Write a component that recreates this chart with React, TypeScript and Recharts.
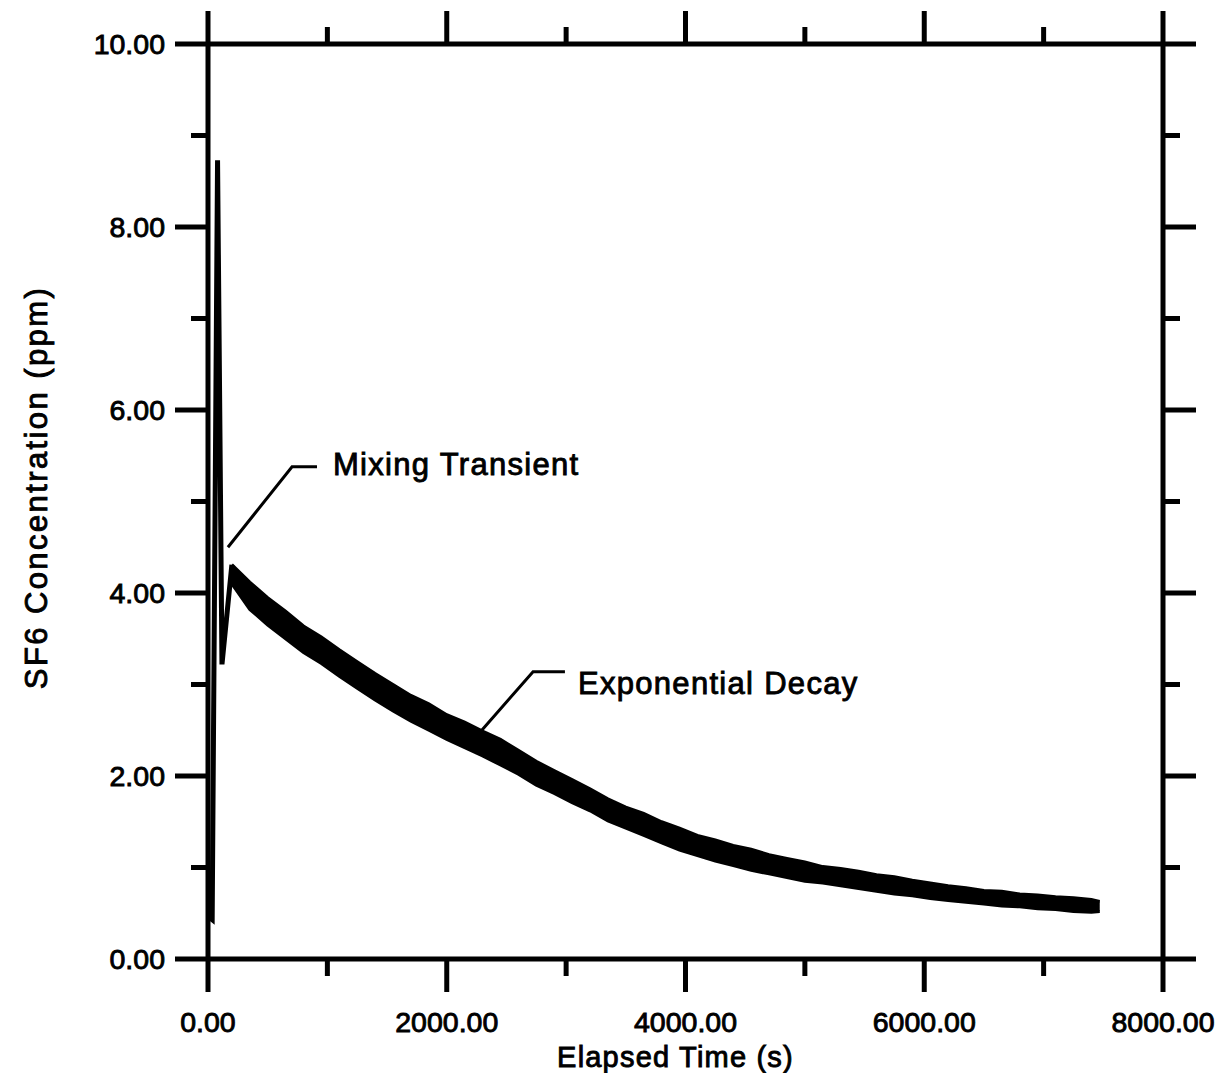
import React from 'react';
import { ComposedChart, XAxis, YAxis, Area, Line, Scatter } from 'recharts';

// ---- data ----
const decayTime = [200, 350, 500, 650, 800, 950, 1100, 1250, 1400, 1550, 1700, 1850, 2000, 2150, 2300, 2450, 2600, 2750, 2900, 3050, 3200, 3350, 3500, 3650, 3800, 3950, 4100, 4250, 4400, 4550, 4700, 4850, 5000, 5150, 5300, 5450, 5600, 5750, 5900, 6050, 6200, 6350, 6500, 6650, 6800, 6950, 7100, 7250, 7400, 7470];
const decayLow = [4.10, 3.82, 3.65, 3.50, 3.35, 3.23, 3.09, 2.96, 2.83, 2.71, 2.60, 2.50, 2.40, 2.31, 2.22, 2.12, 2.02, 1.90, 1.81, 1.71, 1.62, 1.51, 1.43, 1.35, 1.27, 1.19, 1.13, 1.07, 1.02, 0.97, 0.93, 0.89, 0.85, 0.83, 0.80, 0.77, 0.74, 0.71, 0.69, 0.66, 0.64, 0.62, 0.60, 0.58, 0.57, 0.55, 0.54, 0.52, 0.51, 0.52];
const decayHigh = [4.31, 4.12, 3.95, 3.80, 3.64, 3.52, 3.38, 3.25, 3.12, 3.00, 2.88, 2.79, 2.67, 2.59, 2.49, 2.40, 2.28, 2.16, 2.06, 1.96, 1.86, 1.75, 1.66, 1.59, 1.50, 1.43, 1.35, 1.30, 1.24, 1.20, 1.14, 1.10, 1.06, 1.01, 0.99, 0.96, 0.92, 0.90, 0.86, 0.83, 0.80, 0.78, 0.75, 0.74, 0.71, 0.70, 0.68, 0.67, 0.65, 0.63];

const spikeTime = [15, 35, 80, 117, 200];
const spikeValue = [0.45, 0.43, 8.73, 3.22, 4.31];

const mixingLeaderTime = [167, 704, 913];
const mixingLeaderValue = [4.5, 5.38, 5.38];
const decayLeaderTime = [2220, 2723, 2990];
const decayLeaderValue = [2.39, 3.14, 3.14];

const annotationText = ['Mixing Transient', 'Exponential Decay'];
const annotationTime = [1047, 3099];
const annotationValue = [5.29, 2.9];

const xTickValues = [0, 1000, 2000, 3000, 4000, 5000, 6000, 7000, 8000];
const xMajorTicks = [0, 2000, 4000, 6000, 8000];
const yTickValues = [0, 1, 2, 3, 4, 5, 6, 7, 8, 9, 10];
const yMajorTicks = [0, 2, 4, 6, 8, 10];

const xTitle = 'Elapsed Time (s)';
const yTitle = 'SF6 Concentration (ppm)';

// ---- build series ----
const band = decayTime.map((t, i) => ({ t, lo: decayLow[i], hi: decayHigh[i] }));
const spike = spikeTime.map((t, i) => ({ t, v: spikeValue[i] }));
const mixingLeader = mixingLeaderTime.map((t, i) => ({ t, v: mixingLeaderValue[i] }));
const decayLeader = decayLeaderTime.map((t, i) => ({ t, v: decayLeaderValue[i] }));
const annotations = annotationText.map((label, i) => ({ t: annotationTime[i], v: annotationValue[i], label }));

const FONT = 'Liberation Sans, Arial, Helvetica, sans-serif';
const tickFont: React.CSSProperties = { fontFamily: FONT, fontSize: 28.5, fill: '#000', stroke: '#000', strokeWidth: 0.9 };
const MAJOR = 33;
const MINOR = 17;
const TW = 5;

const BottomTick = (props: any) => {
  const { x, y, payload } = props;
  const major = xMajorTicks.includes(payload.value);
  return (
    <g>
      <line x1={x} x2={x} y1={y} y2={y + (major ? MAJOR : MINOR)} stroke="#000" strokeWidth={TW} />
      {major && (
        <text x={x} y={y + 73} textAnchor="middle" style={tickFont}>
          {Number(payload.value).toFixed(2)}
        </text>
      )}
    </g>
  );
};

const TopTick = (props: any) => {
  const { x, y, payload } = props;
  const major = xMajorTicks.includes(payload.value);
  return <line x1={x} x2={x} y1={y} y2={y - (major ? MAJOR : MINOR)} stroke="#000" strokeWidth={TW} />;
};

const LeftTick = (props: any) => {
  const { x, y, payload } = props;
  const major = yMajorTicks.includes(payload.value);
  return (
    <g>
      <line x1={x} x2={x - (major ? MAJOR : MINOR)} y1={y} y2={y} stroke="#000" strokeWidth={TW} />
      {major && (
        <text x={x - 43} y={y + 10} textAnchor="end" style={tickFont}>
          {Number(payload.value).toFixed(2)}
        </text>
      )}
    </g>
  );
};

const RightTick = (props: any) => {
  const { x, y, payload } = props;
  const major = yMajorTicks.includes(payload.value);
  return <line x1={x} x2={x + (major ? MAJOR : MINOR)} y1={y} y2={y} stroke="#000" strokeWidth={TW} />;
};

const titleStyle: React.CSSProperties = { fontFamily: FONT, fontSize: 29, fill: '#000', stroke: '#000', strokeWidth: 0.9, letterSpacing: 1.2 };

const XTitle = (props: any) => {
  const vb = props.viewBox || { x: 200, y: 951, width: 955, height: 10 };
  return (
    <text x={vb.x + vb.width / 2 - 10} y={vb.y + 108} textAnchor="middle" style={titleStyle}>
      {xTitle}
    </text>
  );
};

const YTitle = (props: any) => {
  const vb = props.viewBox || { x: 140, y: 36, width: 60, height: 915 };
  const cx = 28;
  const cy = vb.y + vb.height / 2 - 14;
  return (
    <text
      x={cx}
      y={cy}
      transform={`rotate(-90 ${cx} ${cy})`}
      textAnchor="middle"
      dominantBaseline="central"
      style={{ ...titleStyle, fontSize: 31, letterSpacing: 2.4 }}
    >
      {yTitle}
    </text>
  );
};

const AnnotationShape = (props: any) => {
  const { cx, cy, payload } = props;
  return (
    <text x={cx} y={cy} style={{ fontFamily: FONT, fontSize: 31, fill: '#000', stroke: '#000', strokeWidth: 0.9, letterSpacing: 1.3 }}>
      {payload.label}
    </text>
  );
};

const axisLine = { stroke: '#000', strokeWidth: 5 };

export default function App() {
  return (
    <div style={{ width: 1210, height: 1065, background: '#fff' }}>
      <ComposedChart width={1210} height={1065} data={band} margin={{ top: 26, right: 45, bottom: 104, left: 140 }}>
        <XAxis
          dataKey="t"
          type="number"
          domain={[0, 8000]}
          ticks={xTickValues}
          interval={0}
          tickSize={0}
          tickMargin={0}
          height={10}
          axisLine={axisLine}
          tickLine={false}
          tick={<BottomTick />}
          allowDataOverflow
          label={XTitle}
        />
        <XAxis
          xAxisId="top"
          orientation="top"
          dataKey="t"
          type="number"
          domain={[0, 8000]}
          ticks={xTickValues}
          interval={0}
          tickSize={0}
          tickMargin={0}
          height={10}
          axisLine={axisLine}
          tickLine={false}
          tick={<TopTick />}
          allowDataOverflow
        />
        <YAxis
          type="number"
          domain={[0, 10]}
          ticks={yTickValues}
          interval={0}
          tickSize={0}
          tickMargin={0}
          width={60}
          axisLine={axisLine}
          tickLine={false}
          tick={<LeftTick />}
          allowDataOverflow
          label={YTitle}
        />
        <YAxis
          yAxisId="right"
          orientation="right"
          type="number"
          domain={[0, 10]}
          ticks={yTickValues}
          interval={0}
          tickSize={0}
          tickMargin={0}
          width={10}
          axisLine={axisLine}
          tickLine={false}
          tick={<RightTick />}
          allowDataOverflow
        />
        <Area
          type="linear"
          dataKey={(d: any) => [d.lo, d.hi]}
          stroke="#000"
          strokeWidth={3}
          fill="#000"
          fillOpacity={1}
          dot={false}
          activeDot={false}
          isAnimationActive={false}
        />
        <Line data={spike} type="linear" dataKey="v" stroke="#000" strokeWidth={5} dot={false} activeDot={false} isAnimationActive={false} />
        <Line data={mixingLeader} type="linear" dataKey="v" stroke="#000" strokeWidth={3} dot={false} activeDot={false} isAnimationActive={false} />
        <Line data={decayLeader} type="linear" dataKey="v" stroke="#000" strokeWidth={3} dot={false} activeDot={false} isAnimationActive={false} />
        <Scatter data={annotations} dataKey="v" shape={<AnnotationShape />} isAnimationActive={false} />
      </ComposedChart>
    </div>
  );
}
